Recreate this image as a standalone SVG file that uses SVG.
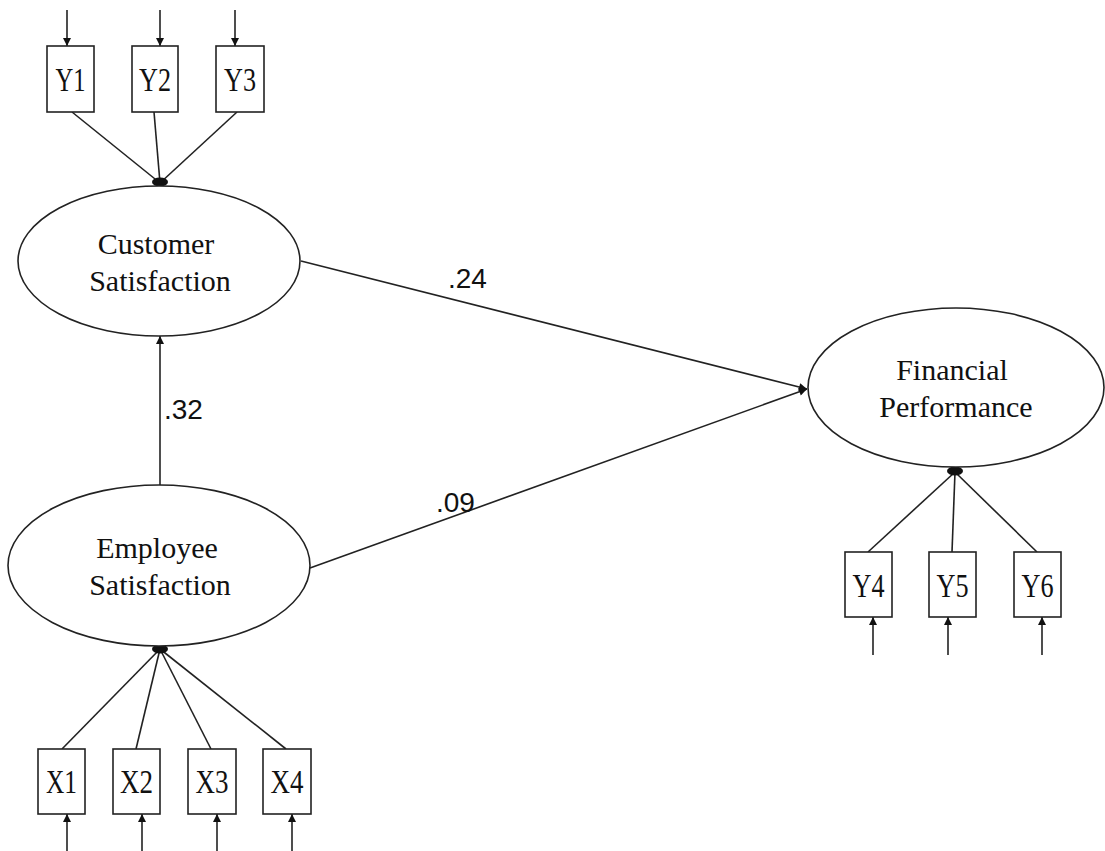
<svg xmlns="http://www.w3.org/2000/svg" width="1105" height="851" viewBox="0 0 1105 851">
  <style>
    .shape { fill: #fff; stroke: #222; stroke-width: 1.6; }
    .line { fill: none; stroke: #222; stroke-width: 1.6; }
    .arrow { fill: none; stroke: #222; stroke-width: 1.6; marker-end: url(#head); }
    .dot { fill: #111; }
    .lbl { font-family: "Liberation Serif", "Times New Roman", serif; font-size: 33px; fill: #111; text-anchor: middle; }
    .lat { font-family: "Liberation Serif", "Times New Roman", serif; font-size: 30px; fill: #111; text-anchor: middle; }
    .coef { font-family: "Liberation Sans", Arial, sans-serif; font-size: 28px; fill: #111; }
  </style>
  <defs>
    <marker id="head" viewBox="0 0 10 10" refX="10" refY="5" markerWidth="9" markerHeight="8" markerUnits="userSpaceOnUse" orient="auto">
      <path d="M0,0 L10,5 L0,10 z" fill="#111"/>
    </marker>
  </defs>
  <rect width="1105" height="851" fill="#fff"/>

  <!-- connectors -->
  <g id="connectors">
    <!-- error arrows into indicators -->
    <line class="arrow" x1="67" y1="10" x2="67" y2="46"/>
    <line class="arrow" x1="160" y1="10" x2="160" y2="46"/>
    <line class="arrow" x1="235" y1="10" x2="235" y2="46"/>
    <line class="arrow" x1="67" y1="851" x2="67" y2="814"/>
    <line class="arrow" x1="142" y1="851" x2="142" y2="814"/>
    <line class="arrow" x1="217" y1="851" x2="217" y2="814"/>
    <line class="arrow" x1="292" y1="851" x2="292" y2="814"/>
    <line class="arrow" x1="873" y1="655" x2="873" y2="617"/>
    <line class="arrow" x1="948" y1="655" x2="948" y2="617"/>
    <line class="arrow" x1="1042" y1="655" x2="1042" y2="617"/>
    <!-- loadings -->
    <line class="line" x1="72" y1="112" x2="160" y2="183"/>
    <line class="line" x1="154" y1="112" x2="160" y2="183"/>
    <line class="line" x1="237" y1="112" x2="160" y2="183"/>
    <line class="line" x1="62" y1="749" x2="160" y2="649"/>
    <line class="line" x1="136" y1="749" x2="160" y2="649"/>
    <line class="line" x1="211" y1="749" x2="160" y2="649"/>
    <line class="line" x1="286" y1="749" x2="160" y2="649"/>
    <line class="line" x1="868" y1="552" x2="955" y2="472"/>
    <line class="line" x1="952" y1="552" x2="955" y2="472"/>
    <line class="line" x1="1037" y1="552" x2="955" y2="472"/>
    <ellipse class="dot" cx="160" cy="182" rx="8" ry="4.5"/>
    <ellipse class="dot" cx="160" cy="649" rx="8" ry="4.5"/>
    <ellipse class="dot" cx="955" cy="471" rx="8" ry="4.5"/>
    <!-- structural paths -->
    <line class="arrow" x1="160" y1="485" x2="160" y2="336"/>
    <line class="arrow" x1="301" y1="261" x2="807" y2="389"/>
    <line class="arrow" x1="310" y1="568" x2="807" y2="389"/>
    <text class="coef" x="448" y="288">.24</text>
    <text class="coef" x="164" y="419">.32</text>
    <text class="coef" x="436" y="512">.09</text>
  </g>

  <g id="Y1"><rect class="shape" x="47" y="46" width="47" height="66"/><text class="lbl" x="70.5" y="91" textLength="30" lengthAdjust="spacingAndGlyphs">Y1</text></g>
  <g id="Y2"><rect class="shape" x="132" y="46" width="46" height="66"/><text class="lbl" x="155" y="91" textLength="32" lengthAdjust="spacingAndGlyphs">Y2</text></g>
  <g id="Y3"><rect class="shape" x="216" y="46" width="48" height="66"/><text class="lbl" x="240" y="91" textLength="32" lengthAdjust="spacingAndGlyphs">Y3</text></g>

  <g id="customer-satisfaction">
    <ellipse class="shape" cx="159" cy="261" rx="141" ry="75"/>
    <text class="lat" x="156" y="254">Customer</text>
    <text class="lat" x="160" y="291">Satisfaction</text>
  </g>

  <g id="employee-satisfaction">
    <ellipse class="shape" cx="159" cy="565.5" rx="151" ry="80.5"/>
    <text class="lat" x="157" y="558">Employee</text>
    <text class="lat" x="160" y="595">Satisfaction</text>
  </g>

  <g id="financial-performance">
    <ellipse class="shape" cx="956" cy="387.5" rx="148" ry="79.5"/>
    <text class="lat" x="952" y="380">Financial</text>
    <text class="lat" x="956" y="417">Performance</text>
  </g>

  <g id="X1"><rect class="shape" x="38" y="749" width="47" height="65"/><text class="lbl" x="61.5" y="793" textLength="31" lengthAdjust="spacingAndGlyphs">X1</text></g>
  <g id="X2"><rect class="shape" x="113" y="749" width="47" height="65"/><text class="lbl" x="136.5" y="793" textLength="33" lengthAdjust="spacingAndGlyphs">X2</text></g>
  <g id="X3"><rect class="shape" x="188" y="749" width="48" height="65"/><text class="lbl" x="212" y="793" textLength="33" lengthAdjust="spacingAndGlyphs">X3</text></g>
  <g id="X4"><rect class="shape" x="263" y="749" width="48" height="65"/><text class="lbl" x="287" y="793" textLength="33" lengthAdjust="spacingAndGlyphs">X4</text></g>

  <g id="Y4"><rect class="shape" x="845" y="552" width="47" height="65"/><text class="lbl" x="868.5" y="597" textLength="32" lengthAdjust="spacingAndGlyphs">Y4</text></g>
  <g id="Y5"><rect class="shape" x="929" y="552" width="47" height="65"/><text class="lbl" x="952.5" y="597" textLength="32" lengthAdjust="spacingAndGlyphs">Y5</text></g>
  <g id="Y6"><rect class="shape" x="1014" y="552" width="47" height="65"/><text class="lbl" x="1037.5" y="597" textLength="32" lengthAdjust="spacingAndGlyphs">Y6</text></g>
</svg>
